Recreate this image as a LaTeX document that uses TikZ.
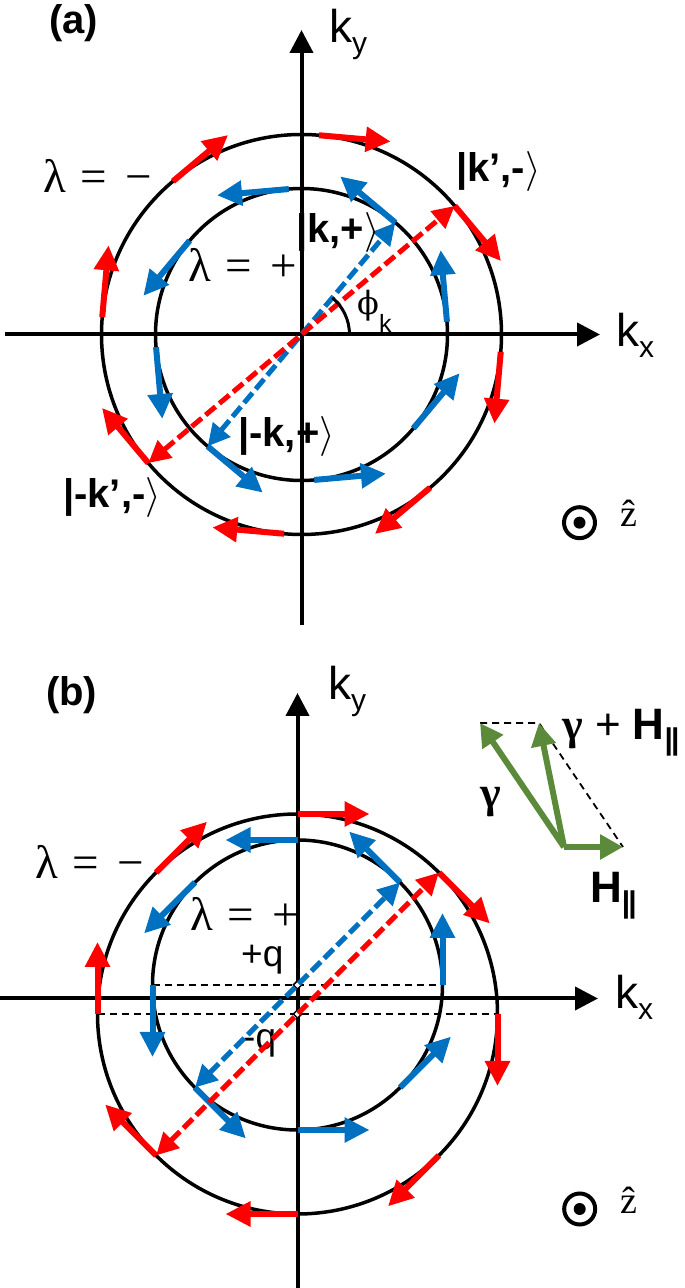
\RequirePackage{fix-cm}
\documentclass[tikz,border=0pt]{standalone}
\usepackage{fontspec}
\setmainfont{Liberation Sans}
\newfontfamily\serifgreek{Liberation Serif}
\newfontfamily\phifont{DejaVu Serif}
\usepackage{xcolor}
\usepackage{tikz}
\usetikzlibrary{arrows.meta,calc,shapes.geometric}
\definecolor{SpinRed}{HTML}{FF0000}
\definecolor{SpinBlue}{HTML}{0070C0}
\definecolor{FieldGreen}{HTML}{5A8A3A}
\newcommand{\pxfont}[1]{\fontsize{#1}{#1}\selectfont}
\newcommand{\bandlabel}[1]{λ\hspace{0.3em}=\hspace{0.4em}#1}

\begin{document}
\begin{tikzpicture}[x=1pt,y=1pt]
  \path[use as bounding box] (0,0) rectangle (685,1288);
  \tikzset{
    kAxis/.style={draw=black, line width=4pt, -{Triangle[length=23pt,width=23pt]}},
    bandLine/.style={draw=black, line width=3.5pt},
    spinRed/.style={draw=SpinRed, line width=6pt, -{Triangle[length=25pt,width=24pt]}},
    spinBlue/.style={spinRed, draw=SpinBlue},
    pairRed/.style={draw=SpinRed, line width=5pt, dash pattern=on 13pt off 5pt,
      {Triangle[length=22pt,width=22pt]}-{Triangle[length=22pt,width=22pt]}},
    pairBlue/.style={pairRed, draw=SpinBlue},
    guideDash/.style={draw=black, line width=1.8pt, dash pattern=on 7pt off 5pt},
    vecGreen/.style={draw=FieldGreen, line width=6pt, -{Triangle[length=23pt,width=24pt]}},
    qMark/.style={diamond, draw=black, fill=white, line width=1.5pt,
      minimum size=9pt, inner sep=0pt},
    zDot/.style={circle, draw=black, line width=4pt, minimum size=31pt, inner sep=0pt},
    lbl/.style={anchor=base west, inner sep=0pt, font=\pxfont{40}},
    bandLbl/.style={lbl, font=\serifgreek\pxfont{47}, text depth=0pt},
    qLbl/.style={lbl, font=\pxfont{37}, text height=0.6em, text depth=0.2em}
  }

  % (a) helical states on two Fermi circles
  \coordinate (Oa) at (301.5,953.5);
  \coordinate (kxA0) at (5,953.5);
  \coordinate (kxA1) at (600,953.5);
  \coordinate (kyA0) at (301.5,663);
  \coordinate (kyA1) at (301.5,1258);
  \draw[kAxis] (kxA0) -- (kxA1);
  \draw[kAxis] (kyA0) -- (kyA1);
  \draw[bandLine] (Oa) circle[radius=200];
  \draw[bandLine] (Oa) circle[radius=146];
  \foreach \a in {40,85,...,355}
    \draw[spinRed] ($(Oa)+(\a:200)$) -- ++(\a-90:72);
  \foreach \a in {5,50,...,320}
    \draw[spinBlue] ($(Oa)+(\a:146)$) -- ++(\a+90:72);

  \coordinate (kA) at ($(Oa)+(50:146)$);
  \coordinate (mkA) at ($(Oa)+(230:146)$);
  \coordinate (kpA) at ($(Oa)+(40:200)$);
  \coordinate (mkpA) at ($(Oa)+(220:200)$);
  \draw[pairBlue] (mkA) -- (kA);
  \draw[pairRed] (mkpA) -- (kpA);
  \draw[line width=3pt] ($(Oa)+(48,0)$) arc[start angle=0,end angle=50,radius=48];

  \node[lbl,font=\pxfont{40}\bfseries] (tagA) at (49,1254) {(a)};
  \node[lbl,font=\pxfont{46}] (kyA) at (329,1245) {k\raisebox{-11pt}{\pxfont{30}y}};
  \node[lbl,font=\pxfont{46}] (kxA) at (616,941) {k\raisebox{-11pt}{\pxfont{30}x}};
  \node[bandLbl] (lamMA) at (43,1095) {\bandlabel{−}};
  \node[bandLbl] (lamPA) at (188,1006) {\bandlabel{+}};
  \node[lbl] (ketkA) at (296,1045) {\textbf{|k,+}$\rangle$};
  \node[lbl] (ketkpA) at (456,1106) {\textbf{|k’,-}$\rangle$};
  \node[lbl] (ketmkA) at (238,841) {\textbf{|-k,+}$\rangle$};
  \node[lbl] (ketmkpA) at (63,780) {\textbf{|-k’,-}$\rangle$};
  \node[lbl,font=\phifont\pxfont{32}] (phiA) at (357,973)
    {ϕ\raisebox{-18pt}{\fontspec{Liberation Sans}\pxfont{25}k}};
  \node[zDot] (zA) at (579.5,765.3) {};
  \fill (zA) circle[radius=6];
  \node[lbl,font=\serifgreek\pxfont{38}] (zhatA) at (620,761) {\^z};

  % (b) circles shifted by +q and -q under the in-plane field
  \coordinate (Ob) at (297.5,289.5);
  \coordinate (Pin) at (297.5,303);
  \coordinate (Pout) at (297.5,274);
  \coordinate (kxB0) at (0,289.5);
  \coordinate (kxB1) at (598,289.5);
  \coordinate (kyB0) at (297.5,0);
  \coordinate (kyB1) at (297.5,595);
  \draw[kAxis] (kxB0) -- (kxB1);
  \draw[kAxis] (kyB0) -- (kyB1);
  \draw[guideDash] ($(Pin)+(-145,0)$) -- ($(Pin)+(145,0)$);
  \draw[guideDash] ($(Pout)+(-200,0)$) -- ($(Pout)+(200,0)$);
  \draw[bandLine] (Pout) circle[radius=200];
  \draw[bandLine] (Pin) circle[radius=145];
  \foreach \a in {0,45,...,315}
    \draw[spinRed] ($(Pout)+(\a:200)$) -- ++(\a-90:72);
  \foreach \a in {0,45,...,315}
    \draw[spinBlue] ($(Pin)+(\a:145)$) -- ++(\a+90:72);

  \node[qLbl] (qPlus) at (241,321) {+q};
  \node[qLbl] (qMinus) at (243,238) {-q};
  \node[qMark] (qIn) at (Pin) {};
  \node[qMark] (qOut) at (Pout) {};

  \coordinate (kB) at ($(Pin)+(45:145)$);
  \coordinate (mkB) at ($(Pin)+(225:145)$);
  \coordinate (kpB) at ($(Pout)+(45:200)$);
  \coordinate (mkpB) at ($(Pout)+(225:200)$);
  \draw[pairBlue] (mkB) -- (kB);
  \draw[pairRed] (mkpB) -- (kpB);

  \node[lbl,font=\pxfont{40}\bfseries] (tagB) at (46,582) {(b)};
  \node[lbl,font=\pxfont{46}] (kyB) at (328,588) {k\raisebox{-11pt}{\pxfont{30}y}};
  \node[lbl,font=\pxfont{46}] (kxB) at (615,279) {k\raisebox{-11pt}{\pxfont{30}x}};
  \node[bandLbl] (lamMB) at (35,409) {\bandlabel{−}};
  \node[bandLbl] (lamPB) at (190,357) {\bandlabel{+}};
  \node[zDot] (zB) at (579.7,79) {};
  \fill (zB) circle[radius=6];
  \node[lbl,font=\serifgreek\pxfont{38}] (zhatB) at (620,74.7) {\^z};

  % field triangle: gamma + H_par
  \coordinate (gO) at (564,441);
  \coordinate (gG) at (480,565);
  \coordinate (gS) at (539,565);
  \coordinate (gH) at (623,441);
  \draw[guideDash] (gG) -- (gS) -- (gH);
  \draw[vecGreen] (gO) -- (gG);
  \draw[vecGreen] (gO) -- (gS);
  \draw[vecGreen] (gO) -- (gH);
  \node[lbl,font=\serifgreek\bfseries\pxfont{44}] (gamLbl) at (480,480) {γ};
  \node[lbl,font=\pxfont{44}] (sumLbl) at (562,548)
    {{\serifgreek\bfseries γ} + \textbf{H}\raisebox{-10pt}{\pxfont{30}\bfseries|\kern-2pt|}};
  \node[lbl,font=\pxfont{44}] (hLbl) at (590,385)
    {\textbf{H}\raisebox{-10pt}{\pxfont{30}\bfseries|\kern-2pt|}};
\end{tikzpicture}
\end{document}
